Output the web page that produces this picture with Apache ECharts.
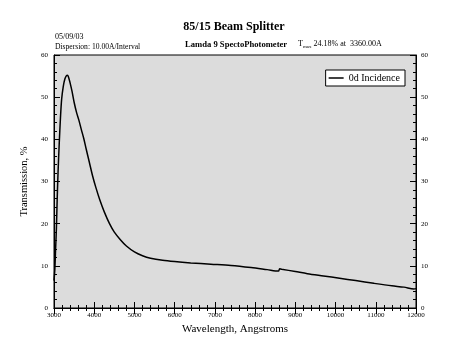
<!DOCTYPE html>
<html><head><meta charset="utf-8">
<script src="https://cdn.jsdelivr.net/npm/echarts@6/dist/echarts.min.js"></script>
<style>html,body{margin:0;padding:0;background:#fff}#c{width:468px;height:362px}</style>
</head><body><div id="c"></div>
<script>
var wavelengths = [3000,3020,3040,3060,3080,3100,3130,3160,3190,3230,3270,3310,3335,3360,3400,3450,3500,3560,3620,3680,3740,3800,3880,3960,4040,4140,4250,4380,4500,4650,4800,5000,5200,5400,5700,6000,6400,6900,7400,7900,8300,8580,8610,8660,9000,9300,9700,10100,10500,10950,11400,11700,11950,12000];
var transmission = [6.5,9,14,19,26,32,39,45,49.5,52.5,54.3,55.1,55.2,54.8,53.4,51.3,48.8,46.4,44.5,42.3,40.2,37.7,34.5,31.3,28.6,25.6,22.8,20,18,16.2,14.7,13.3,12.4,11.8,11.3,11,10.7,10.4,10.1,9.6,9.1,8.75,9.3,9.2,8.65,8.15,7.6,7.05,6.5,5.85,5.25,4.95,4.5,4.6];
var xTicks = {min:3000, max:12000, step:1000};
var yTicks = {min:0, max:60, step:10};
var seriesName = '0d Incidence';

var pts = wavelengths.map(function(w,i){return [w, transmission[i]];});
var serif = '"Liberation Serif", "DejaVu Serif", serif';
var chart = echarts.init(document.getElementById('c'));
var plain = function(v){return String(v);};
var axisCommon = {
  axisLine:{show:true,lineStyle:{color:'#000',width:1}},
  axisTick:{show:true,inside:true,length:6,lineStyle:{color:'#000'}},
  minorTick:{show:true,splitNumber:5,length:3,lineStyle:{color:'#000'}},
  splitLine:{show:false}
};
function ax(extra){return Object.assign({}, JSON.parse(JSON.stringify(axisCommon)), extra);}
chart.setOption({
  animation:false,
  backgroundColor:'#fff',
  grid:{left:54,right:52,top:55,bottom:54,show:true,backgroundColor:'#dcdcdc',borderColor:'#000',borderWidth:1},
  legend:{data:[seriesName],right:63,top:70,orient:'vertical',backgroundColor:'#fff',borderColor:'#000',borderWidth:1,padding:[3,5,3,3],
    icon:'path://M0,0 L20,0 L20,2 L0,2 Z',itemWidth:15,itemHeight:2,itemGap:4,
    textStyle:{fontFamily:serif,fontSize:10,color:'#000'}},
  xAxis:[
    ax({type:'value',position:'bottom',min:xTicks.min,max:xTicks.max,interval:xTicks.step,
      name:'Wavelength, Angstroms',nameLocation:'middle',nameGap:15,
      nameTextStyle:{fontFamily:serif,fontSize:11,color:'#000'},
      axisLabel:{fontFamily:serif,fontSize:7,color:'#000',margin:4,formatter:plain}}),
    ax({type:'value',position:'top',min:xTicks.min,max:xTicks.max,interval:xTicks.step,axisLabel:{show:false}})
  ],
  yAxis:[
    ax({type:'value',position:'left',min:yTicks.min,max:yTicks.max,interval:yTicks.step,
      name:'Transmission, %',nameLocation:'middle',nameGap:22,nameRotate:90,
      nameTextStyle:{fontFamily:serif,fontSize:10.5,color:'#000'},
      axisLabel:{fontFamily:serif,fontSize:7,color:'#000',margin:6,formatter:plain}}),
    ax({type:'value',position:'right',min:yTicks.min,max:yTicks.max,interval:yTicks.step,
      axisLabel:{fontFamily:serif,fontSize:7,color:'#000',margin:5,formatter:plain}})
  ],
  series:[{name:seriesName,type:'line',data:pts,showSymbol:false,symbol:'none',smooth:0.3,
    lineStyle:{color:'#000',width:1.5},itemStyle:{color:'#000'}}],
  graphic:[
    {type:'text',left:'center',top:21,style:{text:'85/15 Beam Splitter',font:'bold 12px '+serif,fill:'#000'}},
    {type:'text',left:55,top:33,style:{text:'05/09/03',font:'8px '+serif,fill:'#000'}},
    {type:'text',left:55,top:43,style:{text:'Dispersion: 10.00A/Interval',font:'7.6px '+serif,fill:'#000'}},
    {type:'text',left:185,top:40,style:{text:'Lamda 9 SpectoPhotometer',font:'bold 8.6px '+serif,fill:'#000'}},
    {type:'text',left:298,top:40,style:{rich:{a:{font:'8px '+serif,fill:'#000'},s:{font:'5px '+serif,fill:'#000',padding:[5,0,0,0]}},text:'{a|T}{s|max}{a| 24.18% at  3360.00A}'}}
  ]
});
</script></body></html>
